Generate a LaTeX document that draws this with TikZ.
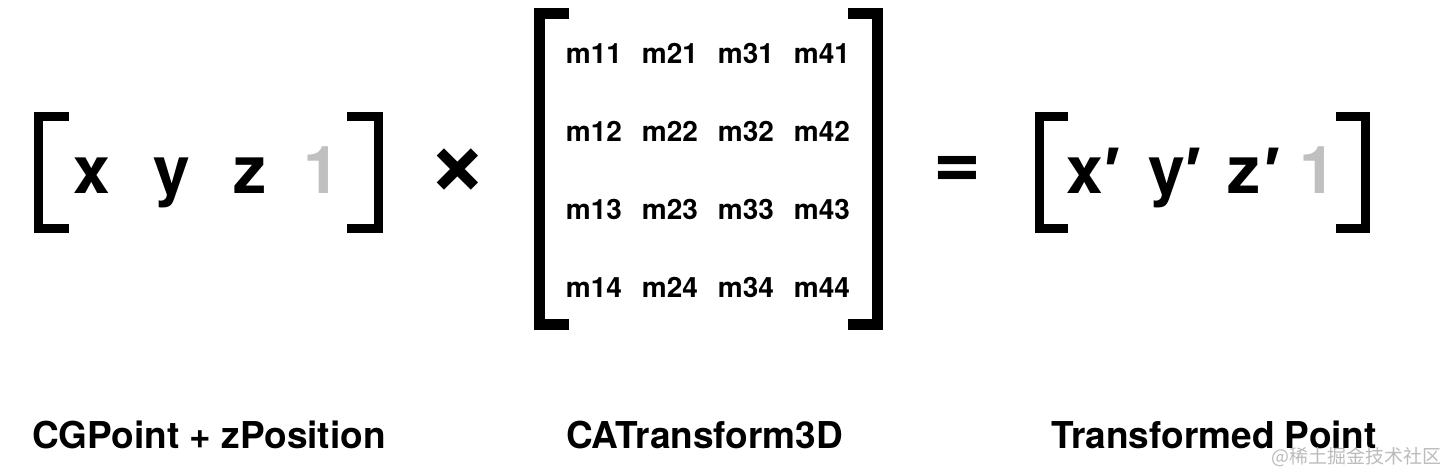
\documentclass[tikz,border=0pt]{standalone}
\usepackage{fontspec}
\setmainfont{TeX Gyre Heros}[BoldFont={* Bold}]
\newfontfamily\lib{Liberation Sans}
\newfontfamily\cjk{Noto Sans CJK SC}
\definecolor{onegray}{HTML}{C0C0C0}
\definecolor{wmgray}{HTML}{BBBBBB}
\begin{document}
\begin{tikzpicture}[x=1pt,y=-1pt,
  brk/.style={line width=9pt, line cap=butt, line join=miter},
  bigbrk/.style={line width=11pt, line cap=butt, line join=miter},
  vec/.style={inner sep=0pt, anchor=base, font=\fontsize{66}{66}\selectfont\bfseries},
  ent/.style={inner sep=0pt, anchor=base, font=\fontsize{28}{28}\selectfont\bfseries},
  caption/.style={inner sep=0pt, anchor=base west, font=\fontsize{37}{37}\selectfont\bfseries},
  prm/.style={inner sep=0pt, anchor=base, font=\fontsize{66}{66}\selectfont\lib\bfseries},
]
\useasboundingbox (0,0) rectangle (1444,472);
% left vector
\draw[brk] (69,116.5) -- (38.5,116.5) -- (38.5,228.5) -- (69,228.5);
\draw[brk] (347,116.5) -- (378.5,116.5) -- (378.5,228.5) -- (347,228.5);
\node[vec] (x) at (91.5,193) {x};
\node[vec] (y) at (172,193) {y};
\node[vec] (z) at (250,193) {z};
\node[vec, text=onegray] (one) at (322,193) {1};
% times
\node[inner sep=0pt, anchor=center, font=\fontsize{104}{104}\selectfont\bfseries] (times) at (458,172) {×};
% matrix
\draw[bigbrk] (569,13.5) -- (539.5,13.5) -- (539.5,324.5) -- (569,324.5);
\draw[bigbrk] (848,13.5) -- (877.5,13.5) -- (877.5,324.5) -- (848,324.5);
\foreach \r/\yy in {1/63,2/141,3/219,4/297}{
  \foreach \c/\xx in {1/594,2/670,3/746,4/822}{
    \node[ent] (m\c\r) at (\xx,\yy) {m\c\r};
  }
}
% equals
\node[inner sep=0pt, anchor=center, font=\fontsize{82}{82}\selectfont\bfseries] (eq) at (957,172) {=};
% result vector
\draw[brk] (1068,116.5) -- (1039.5,116.5) -- (1039.5,228.5) -- (1068,228.5);
\draw[brk] (1336,116.5) -- (1365,116.5) -- (1365,228.5) -- (1336,228.5);
\node[vec] (xp) at (1084.5,193) {x};
\node[vec] (yp) at (1166.5,193) {y};
\node[vec] (zp) at (1244,193) {z};
\node[vec, text=onegray] (onep) at (1318,193) {1};
\node[prm] (p1) at (1112,193) {′};
\node[prm] (p2) at (1193,193) {′};
\node[prm] (p3) at (1272,193) {′};
% captions
\node[caption] (c1) at (32,448) {CGPoint + zPosition};
\node[caption] (c2) at (566,448) {CATransform3D};
\node[caption] (c3) at (1051,448) {Transformed Point};
% watermark
\node[inner sep=0pt, anchor=base east, text=wmgray, font=\fontsize{19}{19}\selectfont\cjk] (wm) at (1442,463) {@稀土掘金技术社区};
\end{tikzpicture}
\end{document}
